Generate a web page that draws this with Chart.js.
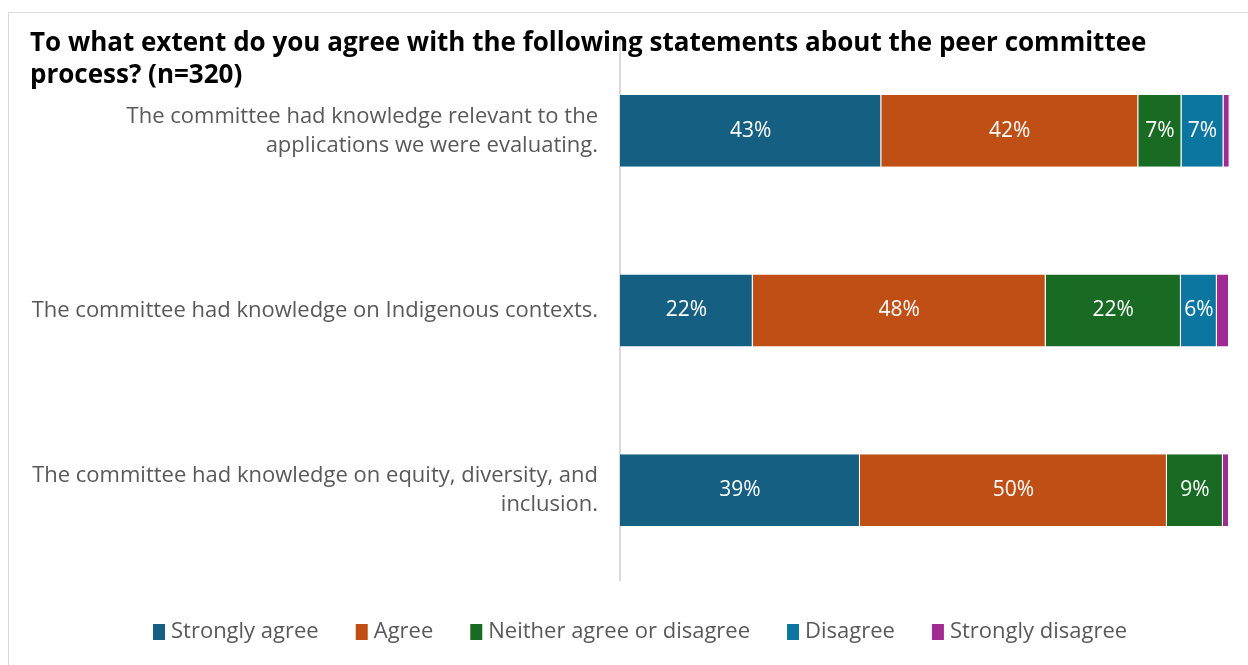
<!DOCTYPE html>
<html>
<head>
<meta charset="utf-8">
<script src="https://cdn.jsdelivr.net/npm/chart.js@4"></script>
<style>
  html, body { margin: 0; padding: 0; background: #ffffff; }
  #wrap { position: relative; width: 1248px; height: 665px; }
</style>
</head>
<body>
<div id="wrap"><canvas id="c" width="1248" height="665"></canvas></div>
<script>
const titleLines = [
  "To what extent do you agree with the following statements about the peer committee",
  "process? (n=320)"
];
const categories = [
  ["The committee had knowledge relevant to the", "applications we were evaluating."],
  "The committee had knowledge on Indigenous contexts.",
  ["The committee had knowledge on equity, diversity, and", "inclusion."]
];
const seriesNames = ["Strongly agree", "Agree", "Neither agree or disagree", "Disagree", "Strongly disagree"];
const stronglyAgree = [42.9, 21.8, 39.4];
const agree = [42.2, 48.1, 50.4];
const neither = [7.1, 22.2, 9.2];
const disagree = [6.9, 5.9, 0];
const stronglyDisagree = [1.0, 2.0, 1.0];
const seriesColors = ["#156082", "#C04F15", "#196B24", "#0B76A0", "#A02B93"];

const FONT = "Open Sans";
const seriesValues = [stronglyAgree, agree, neither, disagree, stronglyDisagree];

const framePlugin = {
  id: 'frame',
  beforeDraw(chart) {
    const ctx = chart.ctx;
    ctx.save();
    ctx.fillStyle = '#ffffff';
    ctx.fillRect(0, 0, chart.width, chart.height);
    ctx.strokeStyle = '#d9d9d9';
    ctx.lineWidth = 1;
    ctx.strokeRect(8.5, 12.5, 1250, 680);
    ctx.restore();
  }
};

const labelPlugin = {
  id: 'barLabels',
  afterDatasetsDraw(chart) {
    const ctx = chart.ctx;
    ctx.save();
    ctx.font = `21px "${FONT}"`;
    ctx.fillStyle = '#ffffff';
    ctx.textAlign = 'center';
    ctx.textBaseline = 'middle';
    chart.data.datasets.forEach((ds, di) => {
      const meta = chart.getDatasetMeta(di);
      meta.data.forEach((bar, i) => {
        const v = ds.data[i];
        if (v >= 5) {
          const cx = (bar.x + bar.base) / 2;
          ctx.fillText(Math.round(v) + '%', cx, bar.y);
        }
      });
    });
    ctx.restore();
  }
};

const titleLegendPlugin = {
  id: 'titleLegend',
  afterDraw(chart) {
    const ctx = chart.ctx;
    ctx.save();
    ctx.font = `bold 26px "${FONT}"`;
    ctx.fillStyle = '#000000';
    ctx.textAlign = 'left';
    ctx.textBaseline = 'alphabetic';
    ctx.fillText(titleLines[0], 30, 51);
    ctx.fillText(titleLines[1], 30, 83);

    // legend
    ctx.font = `22px "${FONT}"`;
    ctx.textBaseline = 'middle';
    let x = 153;
    const y = 632;
    chart.data.datasets.forEach((ds) => {
      ctx.fillStyle = ds.backgroundColor;
      ctx.fillRect(x, y - 8, 12, 16);
      ctx.fillStyle = '#595959';
      ctx.fillText(ds.label, x + 18, y);
      x += 18 + ctx.measureText(ds.label).width + 37;
    });
    ctx.restore();
  }
};

new Chart(document.getElementById('c'), {
  type: 'bar',
  data: {
    labels: categories,
    datasets: seriesNames.map((name, i) => ({
      label: name,
      data: seriesValues[i],
      backgroundColor: seriesColors[i],
      borderColor: '#ffffff',
      borderWidth: { left: 0, right: 1, top: 0, bottom: 0 },
      borderSkipped: false,
      barPercentage: 0.8,
      categoryPercentage: 0.5
    }))
  },
  options: {
    indexAxis: 'y',
    responsive: false,
    animation: false,
    devicePixelRatio: 1,
    layout: { padding: { left: 0, right: 19, top: 41, bottom: 85 } },
    plugins: {
      legend: { display: false },
      title: { display: false },
      tooltip: { enabled: false }
    },
    scales: {
      x: {
        stacked: true,
        display: false,
        min: 0,
        max: 100
      },
      y: {
        stacked: true,
        afterFit(scale) {
          scale.width = 620;
          scale.paddingTop = 0;
          scale.paddingBottom = 0;
        },
        grid: { display: false, drawTicks: false },
        border: { display: true, color: '#d9d9d9', width: 2 },
        ticks: {
          color: '#595959',
          font: { family: FONT, size: 22, lineHeight: 1.32 },
          padding: 22,
          crossAlign: 'near'
        }
      }
    }
  },
  plugins: [framePlugin, labelPlugin, titleLegendPlugin]
});
</script>
</body>
</html>
